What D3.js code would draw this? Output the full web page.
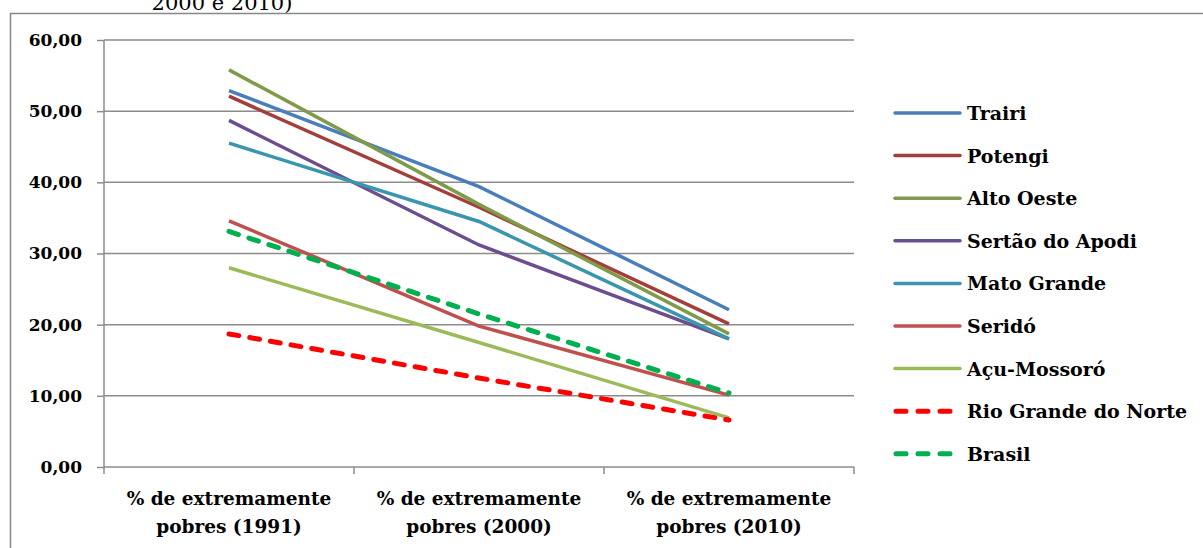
<!DOCTYPE html>
<html><head><meta charset="utf-8">
<script src="https://cdn.jsdelivr.net/npm/d3@7"></script>
<style>body{margin:0;background:#fff;}</style>
</head><body>
<script>
const categories = ["% de extremamente|pobres (1991)", "% de extremamente|pobres (2000)", "% de extremamente|pobres (2010)"];
const seriesNames = ["Trairi","Potengi","Alto Oeste","Sertão do Apodi","Mato Grande","Seridó","Açu-Mossoró","Rio Grande do Norte","Brasil"];
const trairi = [52.9, 39.4, 22.1];
const potengi = [52.1, 36.5, 20.1];
const altoOeste = [55.8, 36.9, 18.7];
const sertao = [48.7, 31.2, 18.0];
const matoGrande = [45.5, 34.5, 18.0];
const serido = [34.6, 19.8, 10.1];
const acuMossoro = [28.0, 17.5, 6.9];
const rioGrandeDoNorte = [18.7, 12.5, 6.6];
const brasil = [33.1, 21.5, 10.4];
const yTicks = [0,10,20,30,40,50,60];
const colors = ["#4A7EBB","#A33F3B","#7F9A48","#6B4E8D","#3A95AE","#C0504D","#9BBB59","#FF0000","#00B050"];
const dashed = [false,false,false,false,false,false,false,true,true];
const allValues = [trairi,potengi,altoOeste,sertao,matoGrande,serido,acuMossoro,rioGrandeDoNorte,brasil];

const FONT = "'DejaVu Serif', serif";
const W=1203,H=548;
const svg=d3.select("body").append("svg").attr("width",W).attr("height",H);
svg.append("text").attr("x",222).attr("y",10).attr("text-anchor","middle").attr("font-family",FONT)
  .attr("font-size",21).attr("fill","#000").text("2000 e 2010)");
svg.append("path").attr("d",`M10.5,${H+5} V13.5 H${W+5}`).attr("fill","none").attr("stroke","#888").attr("stroke-width",1.5);

const L=104,R=854,T=40,B=467;
const x=d3.scaleBand().domain(categories).range([L,R]);
const y=d3.scaleLinear().domain([0,60]).range([B,T]);

svg.append("g").selectAll("line").data(yTicks.filter(d=>d>0)).join("line")
  .attr("x1",L).attr("x2",R).attr("y1",d=>y(d)).attr("y2",d=>y(d))
  .attr("stroke","#8c8c8c").attr("stroke-width",1.5);

const yAxis=svg.append("g").attr("transform",`translate(${L},0)`)
  .call(d3.axisLeft(y).tickValues(yTicks).tickSize(7).tickPadding(15).tickFormat(d=>d3.format(".2f")(d).replace(".",",")));
yAxis.attr("font-family",FONT);
yAxis.select(".domain").attr("stroke","#8c8c8c").attr("stroke-width",1.5).attr("d",`M0,${T}V${B}`);
yAxis.selectAll(".tick line").attr("stroke","#8c8c8c").attr("stroke-width",1.5);
yAxis.selectAll(".tick text").attr("font-size",17).attr("font-weight","bold").attr("fill","#000")
  .attr("font-family",FONT);

const xAxis=svg.append("g").attr("transform",`translate(0,${B})`)
  .call(d3.axisBottom(x).tickSize(0).tickFormat(""));
xAxis.select(".domain").attr("stroke","#8c8c8c").attr("stroke-width",1.5).attr("d",`M${L},0H${R}`);
const bounds=[L,...categories.map(c=>x(c)+x.bandwidth())];
xAxis.selectAll(".bnd").data(bounds).join("line").attr("class","bnd")
  .attr("x1",d=>d).attr("x2",d=>d).attr("y1",0).attr("y2",7)
  .attr("stroke","#8c8c8c").attr("stroke-width",1.5);
xAxis.selectAll(".tick text").remove();
categories.forEach(c=>{
  const parts=c.split("|");
  const t=svg.append("text").attr("text-anchor","middle").attr("font-size",18.5).attr("font-weight","bold")
    .attr("font-family",FONT).attr("fill","#000");
  parts.forEach((p,i)=>t.append("tspan").attr("x",x(c)+x.bandwidth()/2).attr("y",B+38+i*28).text(p));
});

const line=d3.line().x((d,i)=>x(categories[i])+x.bandwidth()/2).y(d=>y(d));
allValues.forEach((vals,i)=>{
  svg.append("path").datum(vals).attr("d",line).attr("fill","none")
    .attr("stroke",colors[i])
    .attr("stroke-width",dashed[i]?5:3.5)
    .attr("stroke-linecap",dashed[i]?"round":"butt")
    .attr("stroke-dasharray",dashed[i]?"10,11":null);
});

const lg=svg.append("g");
seriesNames.forEach((n,i)=>{
  const yy=113+i*42.6;
  lg.append("line").attr("x1",dashed[i]?896:895).attr("x2",dashed[i]?952:960).attr("y1",yy).attr("y2",yy)
    .attr("stroke",colors[i]).attr("stroke-width",dashed[i]?5:3.5)
    .attr("stroke-linecap","round")
    .attr("stroke-dasharray",dashed[i]?"10,12":null);
  lg.append("text").attr("x",967).attr("y",yy+7).attr("font-size",19).attr("font-weight","bold")
    .attr("font-family",FONT).attr("fill","#000").text(n);
});
</script>
</body></html>
